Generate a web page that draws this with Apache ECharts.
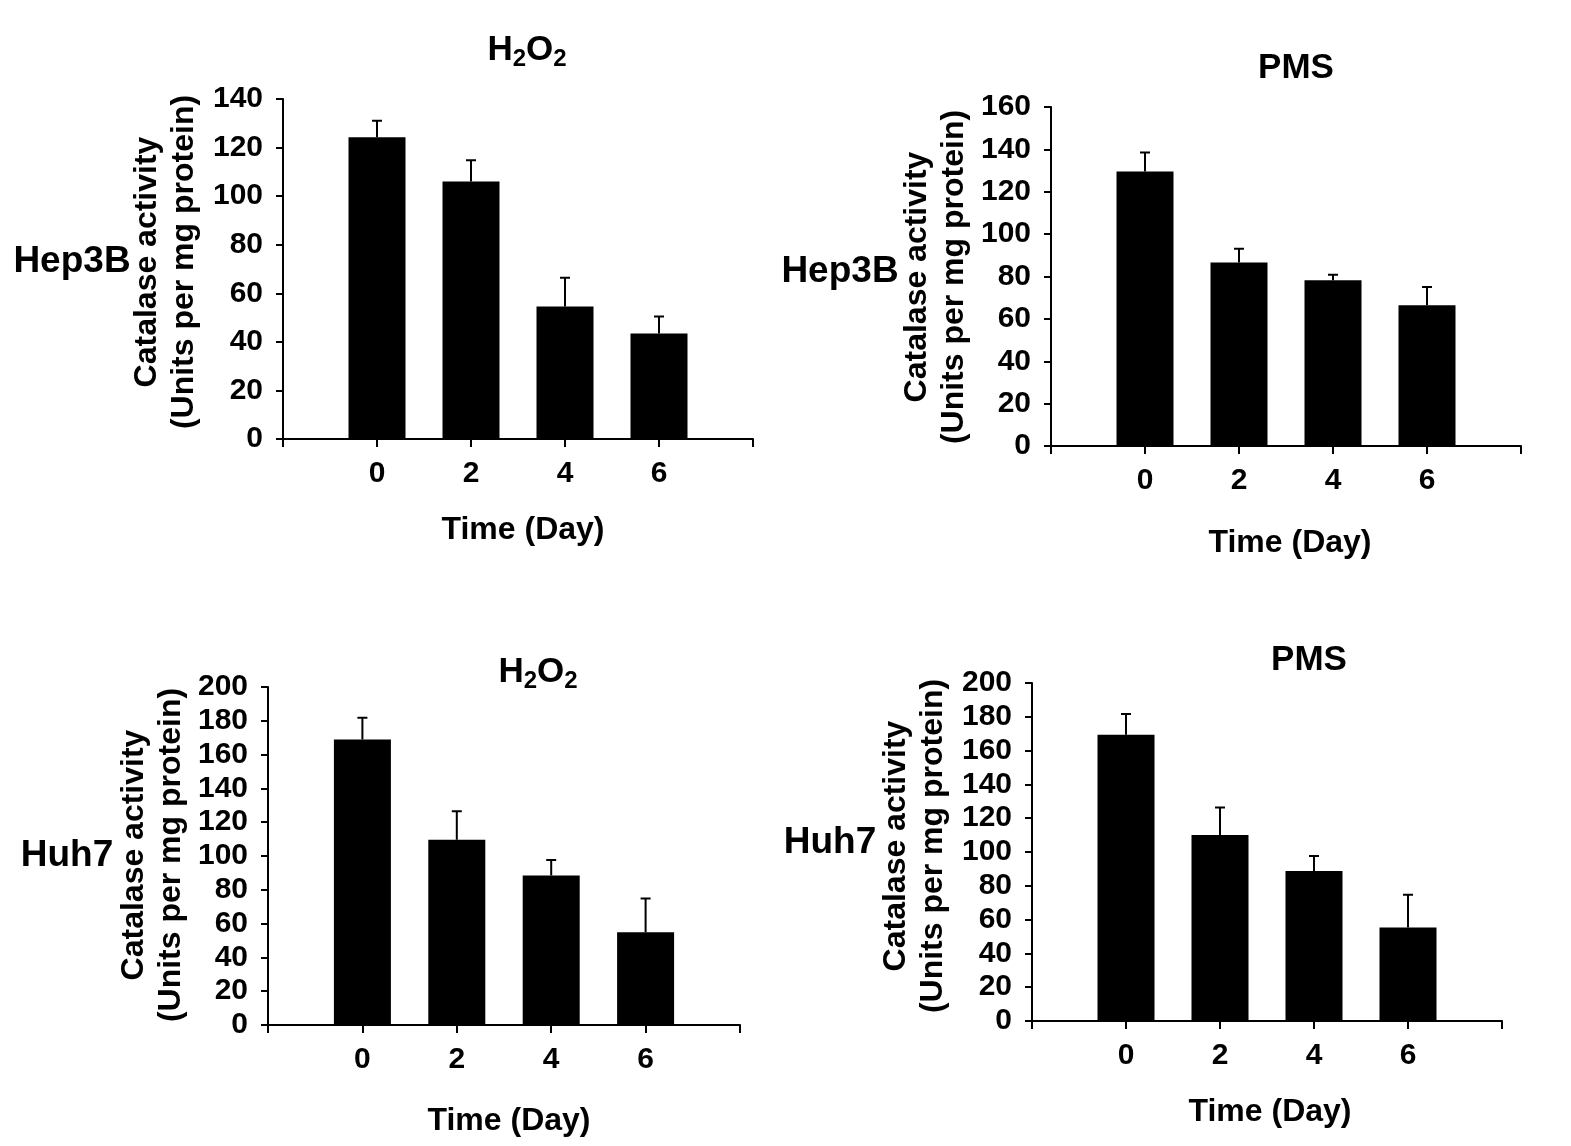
<!DOCTYPE html>
<html>
<head>
<meta charset="utf-8">
<script src="https://cdn.jsdelivr.net/npm/echarts@6/dist/echarts.min.js"></script>
<style>
  html, body { margin: 0; padding: 0; background: #fff; }
  #chart { width: 1571px; height: 1146px; }
</style>
</head>
<body>
<div id="chart"></div>
<script>
// ---- data ----
const days = [0, 2, 4, 6];
const xTickLabels = ['0', '2', '4', '6'];
const yMax = [140, 160, 200, 200];
const yInterval = 20;

const hep3bH2O2 = [124.2, 106.0, 54.6, 43.4];
const hep3bH2O2Err = [6.8, 8.8, 11.8, 7.0];
const hep3bPMS = [129.6, 86.6, 78.2, 66.4];
const hep3bPMSErr = [8.9, 6.5, 2.6, 8.6];
const huh7H2O2 = [169.0, 109.6, 88.4, 54.9];
const huh7H2O2Err = [12.8, 16.9, 9.2, 20.0];
const huh7PMS = [169.4, 110.0, 88.8, 55.3];
const huh7PMSErr = [12.2, 16.3, 8.8, 19.4];

const cellLines = ['Hep3B', 'Hep3B', 'Huh7', 'Huh7'];
const treatments = ['H2O2', 'PMS', 'H2O2', 'PMS'];
const yTitle = 'Catalase activity\n(Units per mg protein)';
const xTitle = 'Time (Day)';

const values = [hep3bH2O2, hep3bPMS, huh7H2O2, huh7PMS];
const errors = [hep3bH2O2Err, hep3bPMSErr, huh7H2O2Err, huh7PMSErr];

// ---- layout ----
const FONT = '"Liberation Sans", Arial, Helvetica, sans-serif';
const layout = [
  { grid: { left: 283, top: 99, width: 470, height: 340 }, title: [527, 50], row: [72, 262], yName: [166, 262], xName: [523, 530] },
  { grid: { left: 1051, top: 107, width: 470, height: 339 }, title: [1296, 68], row: [840, 272], yName: [936, 277], xName: [1290, 543] },
  { grid: { left: 268, top: 687, width: 472, height: 338 }, title: [538, 672], row: [67, 856], yName: [153, 855], xName: [509, 1121] },
  { grid: { left: 1032, top: 683, width: 470, height: 338 }, title: [1309, 660], row: [830, 843], yName: [915, 846], xName: [1270, 1112] }
];

const grids = [], xAxes = [], yAxes = [], series = [], graphics = [];

function titleText(t) {
  if (t === 'H2O2') return '{m|H}{s|2}{m|O}{s|2}';
  return '{m|' + t + '}';
}

layout.forEach((L, i) => {
  grids.push(L.grid);
  xAxes.push({
    gridIndex: i, type: 'value', min: -2, max: 8, interval: 2,
    axisLine: { show: true, onZero: false, lineStyle: { color: '#000', width: 2 } },
    axisTick: { show: true, inside: false, length: 8, lineStyle: { color: '#000', width: 2 } },
    splitLine: { show: false },
    axisLabel: {
      margin: 20, color: '#000', fontSize: 30, fontWeight: 'bold', fontFamily: FONT,
      formatter: v => { const k = days.indexOf(v); return k >= 0 ? xTickLabels[k] : ''; }
    }
  });
  yAxes.push({
    gridIndex: i, type: 'value', min: 0, max: yMax[i], interval: yInterval,
    axisLine: { show: true, onZero: false, lineStyle: { color: '#000', width: 2 } },
    axisTick: { show: true, inside: false, length: 7, lineStyle: { color: '#000', width: 2 } },
    splitLine: { show: false },
    axisLabel: { margin: 20, color: '#000', fontSize: 30, fontWeight: 'bold', fontFamily: FONT }
  });
  series.push({
    type: 'bar', xAxisIndex: i, yAxisIndex: i, barWidth: 57,
    itemStyle: { color: '#000' },
    data: days.map((d, k) => [d, values[i][k]])
  });
  series.push({
    type: 'custom', xAxisIndex: i, yAxisIndex: i, z: 5,
    encode: { x: 0, y: [1, 2] },
    data: days.map((d, k) => [d, values[i][k], values[i][k] + errors[i][k]]),
    renderItem: (params, api) => {
      const x = api.value(0), lo = api.value(1), hi = api.value(2);
      const p0 = api.coord([x, lo]);
      const p1 = api.coord([x, hi]);
      return {
        type: 'polyline',
        shape: { points: [[p0[0], p0[1]], [p1[0], p1[1]], [p1[0] - 5, p1[1]], [p1[0] + 5, p1[1]]] },
        style: { stroke: '#000', lineWidth: 2, fill: null }
      };
    }
  });
  graphics.push({
    type: 'text', x: L.title[0], y: L.title[1],
    style: {
      text: titleText(treatments[i]), textAlign: 'center', textVerticalAlign: 'middle', align: 'center', verticalAlign: 'middle',
      fill: '#000',
      rich: {
        m: { fontSize: 35, fontWeight: 'bold', fontFamily: FONT, lineHeight: 42, fill: '#000' },
        s: { fontSize: 24, fontWeight: 'bold', fontFamily: FONT, lineHeight: 24, verticalAlign: 'bottom', fill: '#000' }
      }
    }
  });
  graphics.push({
    type: 'text', x: L.row[0], y: L.row[1],
    style: {
      text: cellLines[i], textAlign: 'center', textVerticalAlign: 'middle', align: 'center', verticalAlign: 'middle',
      fill: '#000', font: 'bold 37px ' + FONT
    }
  });
  graphics.push({
    type: 'text', x: L.yName[0], y: L.yName[1], rotation: Math.PI / 2,
    style: {
      text: yTitle, textAlign: 'center', textVerticalAlign: 'middle', align: 'center', verticalAlign: 'middle',
      fill: '#000', font: 'bold 32px ' + FONT, lineHeight: 37
    }
  });
  graphics.push({
    type: 'text', x: L.xName[0], y: L.xName[1],
    style: {
      text: xTitle, textAlign: 'center', textVerticalAlign: 'middle', align: 'center', verticalAlign: 'middle',
      fill: '#000', font: 'bold 32px ' + FONT
    }
  });
});

const chart = echarts.init(document.getElementById('chart'), null, { renderer: 'canvas' });
chart.setOption({
  animation: false,
  backgroundColor: '#fff',
  grid: grids,
  xAxis: xAxes,
  yAxis: yAxes,
  series: series,
  graphic: { elements: graphics }
});
</script>
</body>
</html>
